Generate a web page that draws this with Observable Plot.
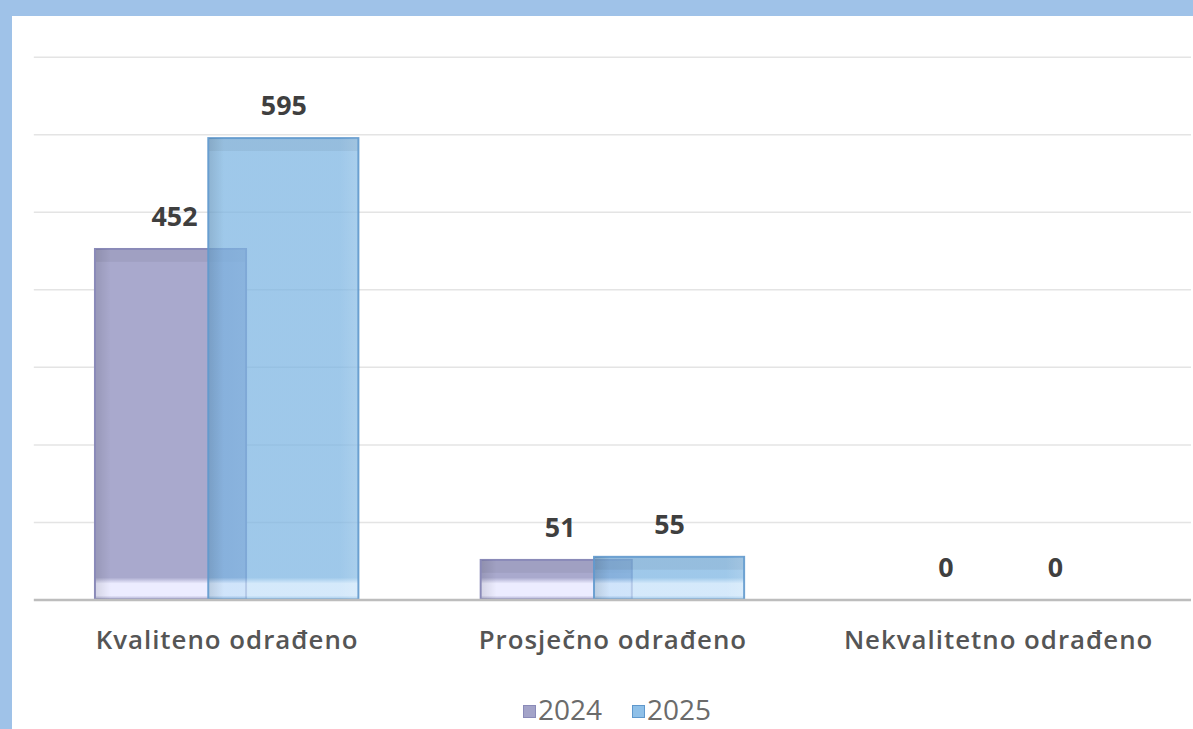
<!DOCTYPE html>
<html>
<head>
<meta charset="utf-8">
<script src="https://cdn.jsdelivr.net/npm/d3@7"></script>
<script src="https://cdn.jsdelivr.net/npm/@observablehq/plot@0.6"></script>
<style>
  html, body { margin: 0; padding: 0; width: 1193px; height: 729px; overflow: hidden; background: #9fc2e8; }
  #panel { position: absolute; left: 12px; top: 16px; width: 1181px; height: 713px; background: #ffffff; }
  #chart { position: absolute; left: 0; top: 0; }
  #legend { position: absolute; left: 0; top: 690px; width: 1234px; text-align: center; font-family: "Open Sans", sans-serif; font-size: 28px; color: #6b6b6b; white-space: nowrap; }
  #legend span.sw { display: inline-block; width: 11px; height: 11px; margin-right: 2px; vertical-align: 2px; }
  #legend span.item { margin: 0 15px; }
</style>
</head>
<body>
<div id="panel"></div>
<div id="chart"></div>
<div id="legend"></div>
<script>
const categories = ["Kvaliteno odrađeno", "Prosječno odrađeno", "Nekvalitetno odrađeno"];
const series = ["2024", "2025"];
const values2024 = [452, 51, 0];
const values2025 = [595, 55, 0];
const yTicks = [100, 200, 300, 400, 500, 600, 700];

const colors = { "2024": "#a9a9cd", "2025": "#7bb4e2" };
const lightColors = { "2024": "#ececff", "2025": "#c5e1f9" };
const strokes = { "2024": "#8a8ab8", "2025": "#5f98cc" };
const legendColors = { "2024": "#a3a3c8", "2025": "#8fc0e8" };

const data = [];
categories.forEach((c, i) => {
  data.push({ category: c, series: "2024", value: values2024[i] });
  data.push({ category: c, series: "2025", value: values2025[i] });
});
const d24 = data.filter(d => d.series === "2024");
const d25 = data.filter(d => d.series === "2025");

function defs(index, scales) {
  const y0 = scales.y(0);
  const g = d3.create("svg:defs");
  const mk = (id, base, light) => {
    const lg = g.append("linearGradient").attr("id", id)
      .attr("gradientUnits", "userSpaceOnUse")
      .attr("x1", 0).attr("x2", 0).attr("y1", y0 - 40).attr("y2", y0);
    lg.append("stop").attr("offset", "0%").attr("stop-color", base);
    lg.append("stop").attr("offset", "45%").attr("stop-color", base);
    lg.append("stop").attr("offset", "60%").attr("stop-color", light);
    lg.append("stop").attr("offset", "90%").attr("stop-color", light);
    lg.append("stop").attr("offset", "100%").attr("stop-color", base);
  };
  mk("g2024", colors["2024"], lightColors["2024"]);
  mk("g2025", colors["2025"], lightColors["2025"]);
  const side = g.append("linearGradient").attr("id", "side")
    .attr("x1", 0).attr("x2", 1).attr("y1", 0).attr("y2", 0);
  side.append("stop").attr("offset", "0%").attr("stop-color", "#000").attr("stop-opacity", 0.10);
  side.append("stop").attr("offset", "10%").attr("stop-color", "#000").attr("stop-opacity", 0.0);
  side.append("stop").attr("offset", "88%").attr("stop-color", "#fff").attr("stop-opacity", 0.0);
  side.append("stop").attr("offset", "100%").attr("stop-color", "#fff").attr("stop-opacity", 0.12);
  return g.node();
}

const nonzero = arr => arr.filter(d => d.value > 0);

const chart = Plot.plot({
  width: 1200,
  height: 663,
  marginLeft: 34,
  marginRight: 2,
  marginTop: 57,
  marginBottom: 60,
  style: { fontFamily: "Open Sans, sans-serif", background: "transparent", overflow: "visible" },
  x: { domain: categories, padding: 0, axis: null },
  y: { domain: [0, 700], axis: null },
  marks: [
    defs,
    Plot.ruleY(yTicks, { stroke: "#e4e4e4", strokeWidth: 1.5 }),
    Plot.barY(d24, { x: "category", y: "value", fill: "url(#g2024)", stroke: strokes["2024"], strokeWidth: 2, insetLeft: 61.5, insetRight: 174.5 }),
    Plot.barY(nonzero(d24), { x: "category", y: "value", fill: "url(#side)", insetLeft: 62.5, insetRight: 175.5 }),
    Plot.barY(nonzero(d24), { x: "category", y1: "value", y2: "value", fill: "#000", fillOpacity: 0.05, insetLeft: 62.5, insetRight: 175.5, insetTop: 1, insetBottom: -13 }),
    Plot.barY(d25, { x: "category", y: "value", fill: "url(#g2025)", fillOpacity: 0.73, stroke: strokes["2025"], strokeOpacity: 0.9, strokeWidth: 2, insetLeft: 175.5, insetRight: 61.5 }),
    Plot.barY(nonzero(d25), { x: "category", y: "value", fill: "url(#side)", insetLeft: 176.5, insetRight: 62.5 }),
    Plot.barY(nonzero(d25), { x: "category", y1: "value", y2: "value", fill: "#000", fillOpacity: 0.05, insetLeft: 176.5, insetRight: 62.5, insetTop: 1, insetBottom: -13 }),
    Plot.ruleY([0], { stroke: "#bdbdbd", strokeWidth: 2.5 }),
    Plot.text(d24, { x: "category", y: "value", text: d => String(d.value), dx: -53, dy: -32, fontSize: 27, fontWeight: "bold", fill: "#3f3f3f", letterSpacing: "1px" }),
    Plot.text(d25, { x: "category", y: "value", text: d => String(d.value), dx: 57, dy: -32, fontSize: 27, fontWeight: "bold", fill: "#3f3f3f", letterSpacing: "1px" }),
    Plot.axisX({ tickSize: 0, tickPadding: 31, fontSize: 26, fontWeight: 600, color: "#555555", label: null })
  ]
});
chart.querySelectorAll("g[aria-label='x-axis tick label'] text").forEach(t => t.setAttribute("letter-spacing", "1px"));
document.getElementById("chart").appendChild(chart);

const legend = document.getElementById("legend");
legend.innerHTML = series.map(s =>
  `<span class="item"><span class="sw" style="background:${legendColors[s]};border:1px solid ${strokes[s]}"></span>${s}</span>`
).join("");
</script>
</body>
</html>
